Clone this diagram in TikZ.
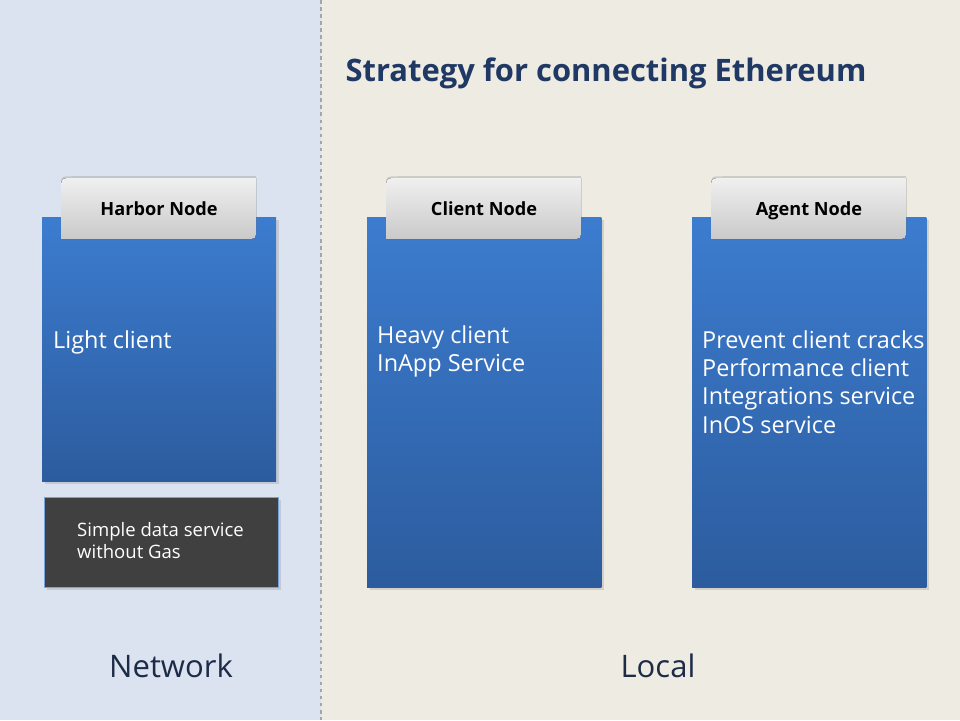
\documentclass[tikz,border=0pt]{standalone}
\usepackage{fontspec}
\setmainfont{Open Sans}
\usetikzlibrary{positioning, shadows}

\definecolor{netbg}{HTML}{DCE3F0}
\definecolor{localbg}{HTML}{EEECE2}
\definecolor{titleblue}{HTML}{1F3864}
\definecolor{boxtop}{HTML}{3C7CCF}
\definecolor{boxbottom}{HTML}{2C5C9E}
\definecolor{darkbox}{HTML}{404040}
\definecolor{zonetext}{HTML}{1C2B46}

\begin{document}
\begin{tikzpicture}[%
    x=0.03cm,
    y=-0.03cm,
    nodebox/.style={rectangle, minimum width=7.02cm, inner sep=0pt,
      top color=boxtop, bottom color=boxbottom,
      drop shadow={opacity=0.25, shadow xshift=2pt, shadow yshift=-2pt}},
    tabshape/.style={top color=gray!12, bottom color=gray!42,
      drop shadow={opacity=0.3, shadow xshift=0pt, shadow yshift=1.5pt}},
    tablabel/.style={anchor=base, font=\fontsize{15.5}{17}\selectfont\bfseries, text=black},
    boxtext/.style={anchor=north west, inner sep=0pt, align=left, text=white,
      font=\fontsize{20}{24.2}\selectfont},
    zonelabel/.style={font=\fontsize{26.5}{30}\selectfont, text=zonetext}
  ]

  \useasboundingbox (0,0) rectangle (960,720);

  % the two zones
  \fill[netbg] (0,0) rectangle (321,720);
  \fill[localbg] (321,0) rectangle (960,720);
  \draw[gray!70, dashed, line width=1pt] (321,0) -- (321,720);

  \node[font=\fontsize{26.4}{30}\selectfont\bfseries, text=titleblue] (title)
    at (606,73) {Strategy for connecting Ethereum};

  % blue boxes
  \node[nodebox, minimum height=7.92cm, anchor=north west] (harbor) at (42,217) {};
  \node[nodebox, minimum height=11.1cm, anchor=north west] (client) at (367,217) {};
  \node[nodebox, minimum height=11.1cm, anchor=north west] (agent) at (692,217) {};

  % tabs
  \foreach \x in {61, 386, 711} {
    \fill[tabshape] (\x,239) -- (\x,190) .. controls (\x,178) .. (\x+12,178)
      -- (\x+195,178) -- (\x+195,229) .. controls (\x+195,239) .. (\x+185,239) -- cycle;
  }
  \node[tablabel] (harbortab) at (159,215) {Harbor Node};
  \node[tablabel] (clienttab) at (484,215) {Client Node};
  \node[tablabel] (agenttab) at (809,215) {Agent Node};

  \node[boxtext] (harbortext) at (53,330) {Light client};
  \node[boxtext] (clienttext) at (377,325) {Heavy client\\InApp Service};
  \node[boxtext] (agenttext) at (702,330)
    {Prevent client cracks\\Performance client\\Integrations service\\InOS service};

  \node[rectangle, fill=darkbox, draw=boxtop!70, line width=0.8pt,
    minimum width=7.02cm, minimum height=2.7cm, anchor=north west,
    drop shadow={opacity=0.25, shadow xshift=2pt, shadow yshift=-2pt}] (gasbox) at (44,497) {};
  \node[anchor=north west, inner sep=0pt, align=left, text=white,
    font=\fontsize{15.8}{18.7}\selectfont] (gastext) at (77,522)
    {Simple data service\\without Gas};

  \node[zonelabel] (network) at (171,666) {Network};
  \node[zonelabel] (local) at (658,666) {Local};
\end{tikzpicture}
\end{document}
